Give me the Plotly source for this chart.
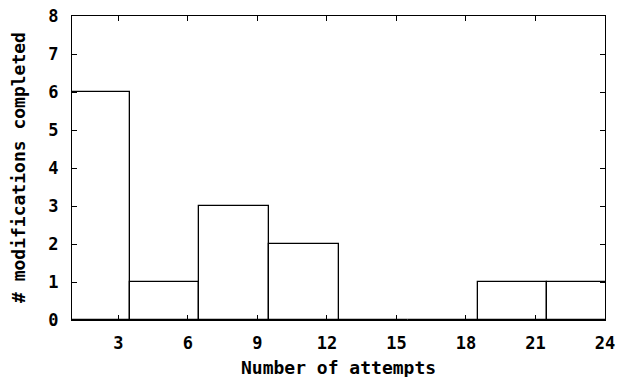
import plotly.graph_objects as go

bin_centers = [2, 5, 8, 11, 14, 17, 20, 23]
counts = [6, 1, 3, 2, 0, 0, 1, 1]
x_ticks = [3, 6, 9, 12, 15, 18, 21, 24]
y_ticks = [0, 1, 2, 3, 4, 5, 6, 7, 8]
bin_width = 3

FONT = dict(family="DejaVu Sans Mono", size=18, color="black", weight="bold")
TICKFONT = dict(family="DejaVu Sans Mono", size=17, color="black", weight="bold")

fig = go.Figure(go.Bar(
    x=bin_centers, y=counts, width=bin_width,
    marker=dict(color="white", line=dict(color="black", width=1.3)),
    showlegend=False,
))

axis_common = dict(
    showline=True, linecolor="black", linewidth=1.3, mirror="ticks",
    ticks="inside", ticklen=5, tickcolor="black", tickwidth=1,
    showgrid=False, zeroline=False, tickfont=TICKFONT, automargin=False,
    ticklabeloverflow="allow",
)
fig.update_layout(
    width=622, height=377,
    margin=dict(l=72, r=17, t=16, b=57),
    paper_bgcolor="white", plot_bgcolor="white",
    bargap=0,
    xaxis=dict(range=[1, 24], tickvals=x_ticks, ticktext=[str(v) for v in x_ticks],
               ticklabelstandoff=7, **axis_common),
    yaxis=dict(range=[0, 8], tickvals=y_ticks, ticktext=[str(v) for v in y_ticks],
               ticklabelstandoff=9, **axis_common),
    annotations=[
        dict(text="Number of attempts", xref="paper", yref="paper", x=0.5, y=0,
             xanchor="center", yanchor="middle", yshift=-47, showarrow=False, font=FONT),
        dict(text="# modifications completed", xref="paper", yref="paper", x=0, y=0.5,
             xanchor="center", yanchor="middle", xshift=-54, textangle=-90,
             showarrow=False, font=FONT),
    ],
)
fig.write_html("out.html", config={"displayModeBar": False},
               post_script="document.body.style.margin='0';")
